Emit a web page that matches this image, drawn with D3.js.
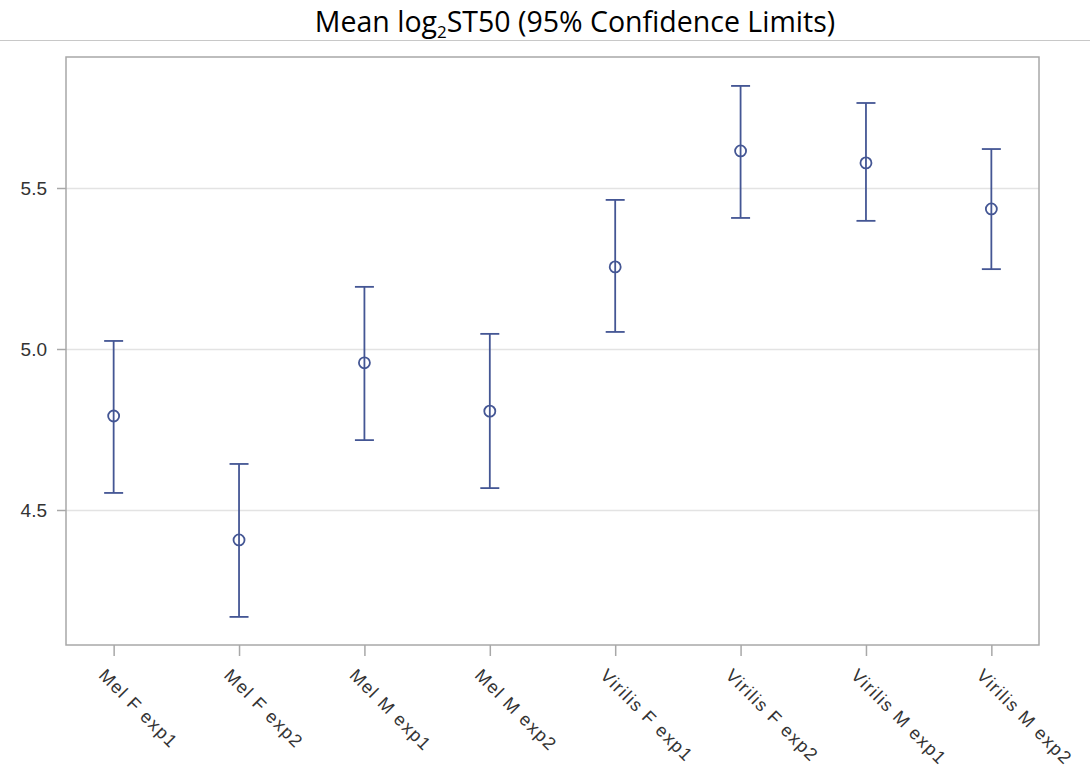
<!DOCTYPE html>
<html>
<head>
<meta charset="utf-8">
<script src="https://cdn.jsdelivr.net/npm/d3@7"></script>
<style>
  body { margin: 0; background: #fff; }
</style>
</head>
<body>
<div id="chart"></div>
<script>
// values
var groups = ["Mel F exp1", "Mel F exp2", "Mel M exp1", "Mel M exp2",
              "Virilis F exp1", "Virilis F exp2", "Virilis M exp1", "Virilis M exp2"];
var means  = [4.792, 4.407, 4.957, 4.807, 5.255, 5.615, 5.578, 5.435];
var lower  = [4.553, 4.168, 4.717, 4.568, 5.053, 5.407, 5.398, 5.248];
var upper  = [5.025, 4.643, 5.193, 5.047, 5.463, 5.817, 5.764, 5.621];
var yTicks = [4.5, 5.0, 5.5];

var width = 1090, height = 774;
var plot = {left: 66, right: 1039, top: 57, bottom: 645};
var ink = "#445694";

var svg = d3.select("#chart")
    .append("svg")
    .attr("width", width)
    .attr("height", height);

// title
var title = svg.append("text")
    .attr("x", 575)
    .attr("y", 32)
    .attr("text-anchor", "middle")
    .attr("font-family", "Open Sans")
    .attr("font-size", 28.5)
    .attr("fill", "#000");
title.append("tspan").text("Mean log");
title.append("tspan").attr("font-size", 17).attr("dy", 6).text("2");
title.append("tspan").attr("dy", -6).text("ST50 (95% Confidence Limits)");

svg.append("line")
    .attr("x1", 0).attr("x2", width)
    .attr("y1", 40.5).attr("y2", 40.5)
    .attr("stroke", "#c8c8c8");

var x = d3.scalePoint()
    .domain(groups)
    .range([plot.left, plot.right])
    .padding(0.38);

var y = d3.scaleLinear()
    .domain([4.5 - (plot.bottom - 510) / 322, 5.5 + (188 - plot.top) / 322])
    .range([plot.bottom, plot.top]);

// grid lines
svg.append("g")
    .selectAll("line")
    .data(yTicks)
    .enter()
    .append("line")
    .attr("x1", plot.left).attr("x2", plot.right)
    .attr("y1", function(d) { return Math.round(y(d)) + 0.5; })
    .attr("y2", function(d) { return Math.round(y(d)) + 0.5; })
    .attr("stroke", "#e3e3e3")
    .attr("stroke-width", 1.5);

// axes
var yAxis = svg.append("g")
    .attr("transform", "translate(" + plot.left + ",0)")
    .call(d3.axisLeft(y).tickValues(yTicks).tickFormat(d3.format(".1f")).tickSizeOuter(0).tickSize(9).tickPadding(10));

var xAxis = svg.append("g")
    .attr("transform", "translate(0," + plot.bottom + ")")
    .call(d3.axisBottom(x).tickSizeOuter(0).tickSize(11));

[yAxis, xAxis].forEach(function(a) {
    a.select(".domain").remove();
    a.selectAll(".tick line").attr("stroke", "#a8a8a8").attr("stroke-width", 1.5);
    a.selectAll("text")
        .attr("font-family", "Liberation Sans")
        .style("font-size", "19px")
        .attr("fill", "#333");
});

xAxis.selectAll("text")
    .attr("text-anchor", "start")
    .attr("transform", "translate(-12,27) rotate(45)")
    .attr("dy", "0.35em")
    .attr("x", 0)
    .attr("y", 0)
    .style("font-size", "18px")
    .attr("letter-spacing", 1.4);

// frame
svg.append("rect")
    .attr("x", plot.left).attr("y", plot.top)
    .attr("width", plot.right - plot.left).attr("height", plot.bottom - plot.top)
    .attr("fill", "none")
    .attr("stroke", "#a8a8a8")
    .attr("stroke-width", 1.5);

// error bars
var bars = svg.append("g")
    .selectAll("g")
    .data(groups)
    .enter()
    .append("g")
    .attr("transform", function(d) { return "translate(" + x(d) + ",0)"; });

bars.append("line")
    .attr("y1", function(d, i) { return y(upper[i]); })
    .attr("y2", function(d, i) { return y(lower[i]); })
    .attr("stroke", ink).attr("stroke-width", 1.8);

[upper, lower].forEach(function(arr) {
    bars.append("line")
        .attr("x1", -9.5).attr("x2", 9.5)
        .attr("y1", function(d, i) { return y(arr[i]); })
        .attr("y2", function(d, i) { return y(arr[i]); })
        .attr("stroke", ink).attr("stroke-width", 1.8);
});

bars.append("circle")
    .attr("cy", function(d, i) { return y(means[i]); })
    .attr("r", 5.5)
    .attr("fill", "none")
    .attr("stroke", ink)
    .attr("stroke-width", 1.8);
</script>
</body>
</html>
